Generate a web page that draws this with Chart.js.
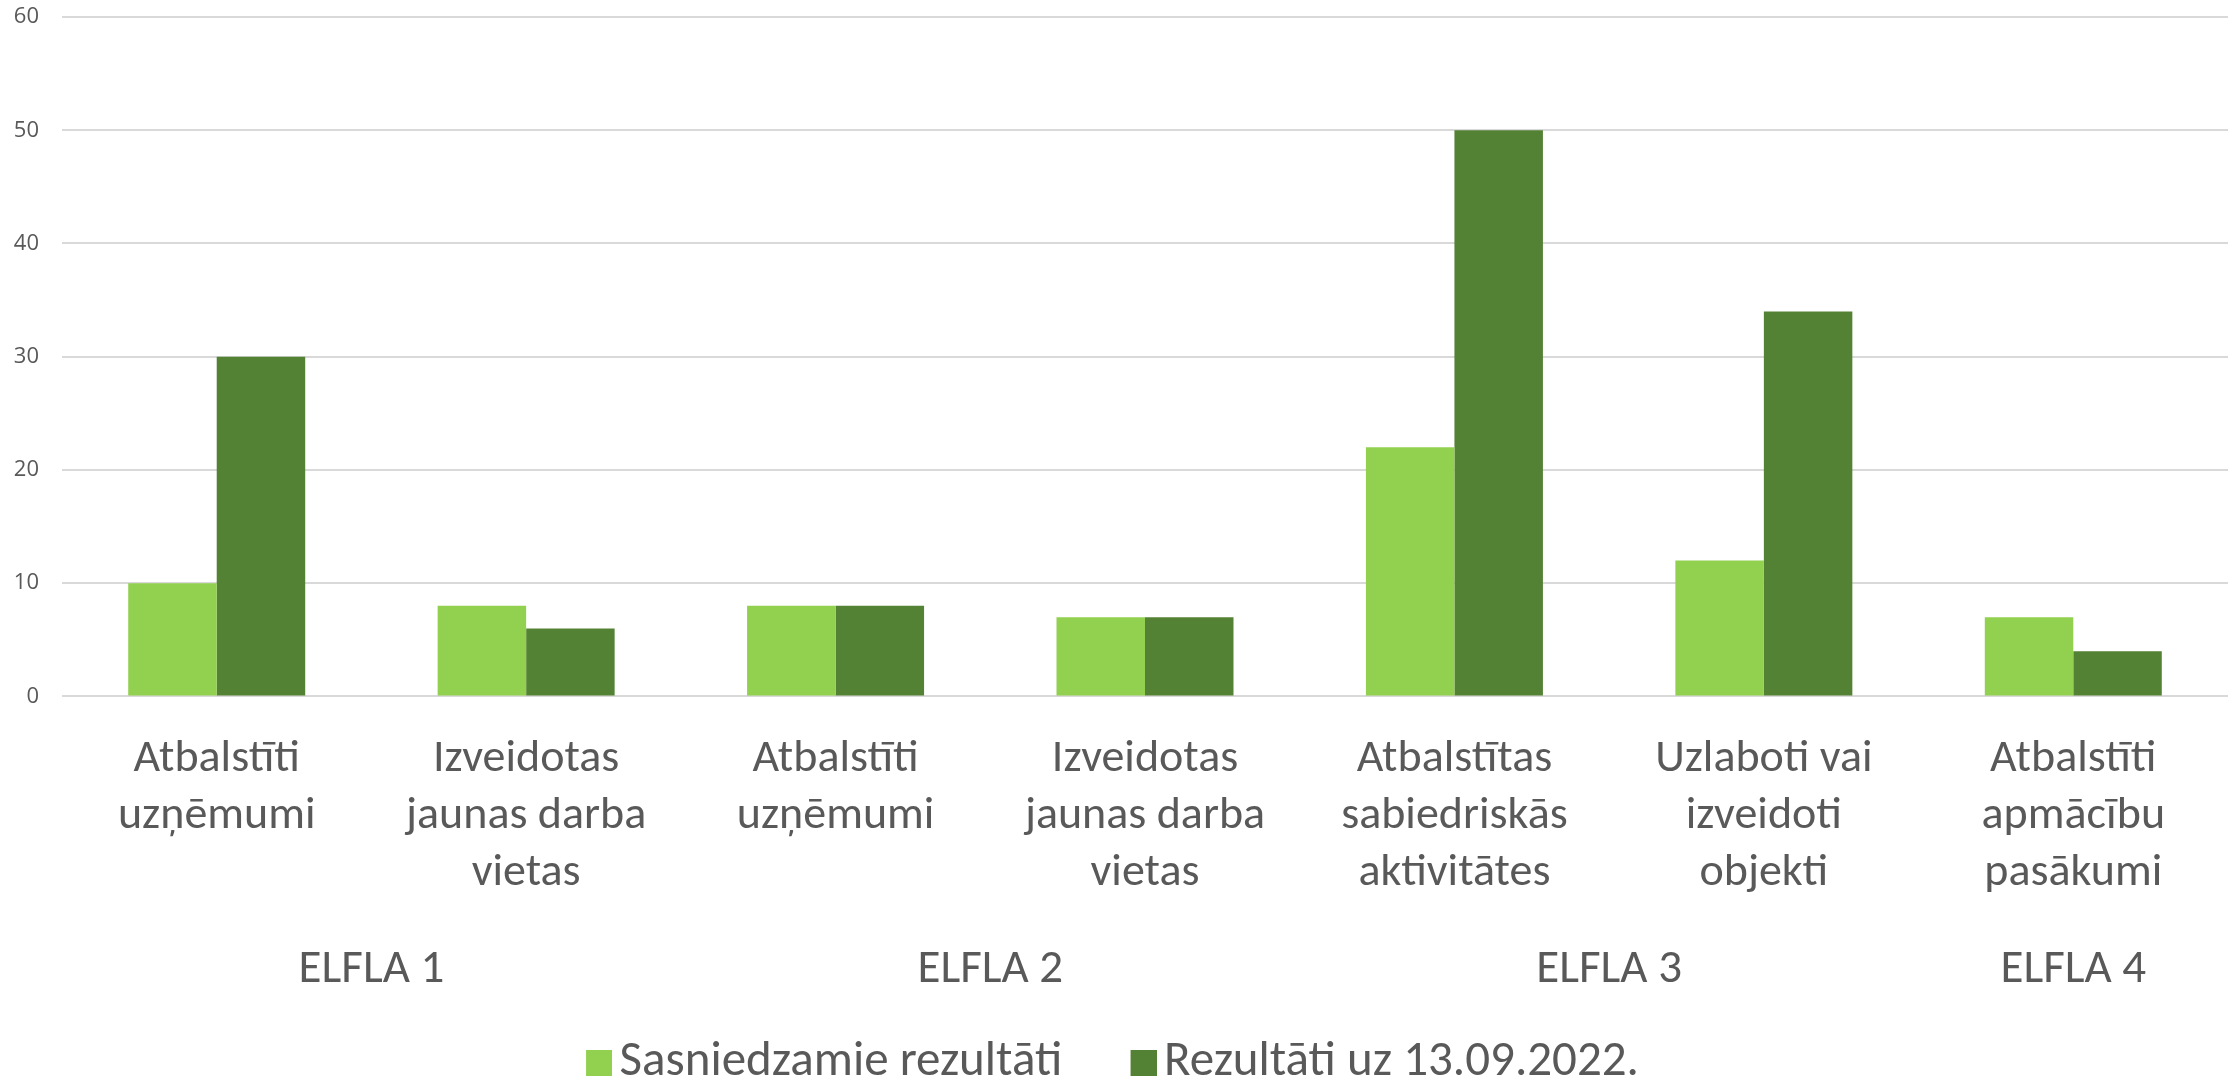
<!DOCTYPE html>
<html>
<head>
<meta charset="utf-8">
<script src="https://cdn.jsdelivr.net/npm/chart.js@4.4.0/dist/chart.umd.min.js"></script>
<style>
html,body{margin:0;padding:0;background:#fff;}
#wrap{width:2239px;height:1081px;}
</style>
</head>
<body>
<div id="wrap"><canvas id="c" width="2239" height="1081"></canvas></div>
<script>
const categories = [
  ["Atbalstīti", "uzņēmumi"],
  ["Izveidotas", "jaunas darba", "vietas"],
  ["Atbalstīti", "uzņēmumi"],
  ["Izveidotas", "jaunas darba", "vietas"],
  ["Atbalstītas", "sabiedriskās", "aktivitātes"],
  ["Uzlaboti vai", "izveidoti", "objekti"],
  ["Atbalstīti", "apmācību", "pasākumi"]
];
const groupLabels = ["ELFLA 1", "ELFLA 2", "ELFLA 3", "ELFLA 4"];
const groupCenters = [0.5, 2.5, 4.5, 6];
const seriesNames = ["Sasniedzamie rezultāti", "Rezultāti uz 13.09.2022."];
const targetValues = [10, 8, 8, 7, 22, 12, 7];
const actualValues = [30, 6, 8, 7, 50, 34, 4];
const yTicks = [0, 10, 20, 30, 40, 50, 60];
const seriesColors = ['#92d050', '#548235'];

const labelFont = 'Carlito, "Liberation Sans Narrow", "DejaVu Sans Condensed", "Open Sans", sans-serif';
const textColor = '#595959';

// legend swatch: a square placed close to the text
function swatch(color) {
  const c = document.createElement('canvas');
  c.width = 40; c.height = 26;
  const g = c.getContext('2d');
  g.fillStyle = color;
  g.fillRect(14, 0, 26, 26);
  return c;
}

new Chart(document.getElementById('c'), {
  type: 'bar',
  data: {
    labels: categories,
    datasets: [
      { label: seriesNames[0], data: targetValues, backgroundColor: seriesColors[0], borderWidth: 0 },
      { label: seriesNames[1], data: actualValues, backgroundColor: seriesColors[1], borderWidth: 0 }
    ]
  },
  options: {
    responsive: false,
    animation: false,
    layout: { padding: { top: 0, right: 11, left: 0, bottom: -16 } },
    datasets: { bar: { categoryPercentage: 0.572, barPercentage: 1.0 } },
    scales: {
      y: {
        min: 0, max: 60,
        afterBuildTicks: (axis) => { axis.ticks = yTicks.map(v => ({ value: v })); },
        afterFit: (axis) => { axis.width = 62; axis.paddingTop = 17; axis.paddingBottom = 13; },
        grid: { color: '#d9d9d9', lineWidth: 2, drawTicks: false },
        border: { display: false },
        ticks: { color: textColor, padding: 23, font: { family: '"Open Sans", sans-serif', size: 22 } }
      },
      x: {
        grid: { display: false },
        border: { display: false },
        ticks: {
          color: textColor, padding: 27, maxRotation: 0, autoSkip: false,
          font: { family: labelFont, size: 46, lineHeight: 1.233 }
        }
      },
      x2: {
        type: 'linear',
        position: 'bottom',
        offset: false,
        min: -0.5, max: 6.5,
        weight: 1,
        afterBuildTicks: (axis) => { axis.ticks = groupCenters.map(v => ({ value: v })); },
        grid: { display: false, drawTicks: false, offset: false },
        border: { display: false },
        ticks: {
          color: textColor, padding: 13, maxRotation: 0, autoSkip: false,
          font: { family: labelFont, size: 47, lineHeight: 1.2 },
          callback: (v, i) => groupLabels[i]
        }
      }
    },
    plugins: {
      tooltip: { enabled: false },
      legend: {
        position: 'bottom',
        labels: {
          color: textColor, boxWidth: 26, boxHeight: 26, padding: 27,
          usePointStyle: true, pointStyleWidth: 6,
          font: { family: labelFont, size: 49 },
          generateLabels: (chart) => chart.data.datasets.map((ds, i) => ({
            text: ds.label + (i < chart.data.datasets.length - 1 ? '    ' : ''),
            fillStyle: ds.backgroundColor,
            strokeStyle: ds.backgroundColor,
            pointStyle: swatch(ds.backgroundColor),
            lineWidth: 0,
            fontColor: textColor,
            hidden: false,
            datasetIndex: i
          }))
        }
      }
    }
  }
});
</script>
</body>
</html>
